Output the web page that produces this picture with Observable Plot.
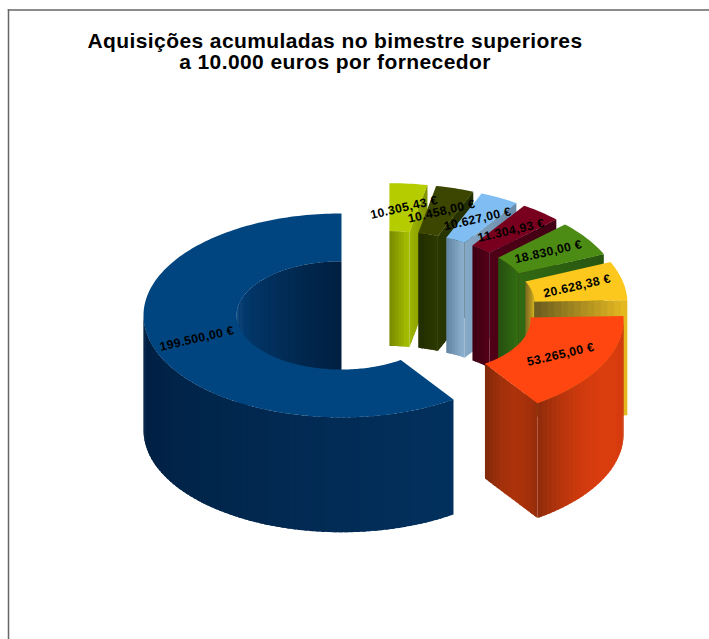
<!DOCTYPE html>
<html><head><meta charset="utf-8">
<script src="https://cdn.jsdelivr.net/npm/d3@7"></script>
<script src="https://cdn.jsdelivr.net/npm/@observablehq/plot@0.6"></script>
<style>html,body{margin:0;background:#fff}svg{display:block}</style>
</head><body><div id="chart"></div>
<script>
const values = [10305.43,10458,10627,11304.93,18830,20628.38,53265,199500];
const labels = ["10.305,43 €","10.458,00 €","10.627,00 €","11.304,93 €","18.830,00 €","20.628,38 €","53.265,00 €","199.500,00 €"];
const topColors = ["#b4cc00","#3c4600","#7fbdf2","#78001e","#4c8c14","#fcc81e","#ff4610","#00457f"];
const wallDark = ["#6f7f00","#1f2a00","#5a7c9a","#3a0012","#234c10","#6a5c20","#6e2408","#011f40"];
const wallLight = ["#a4bc00","#2c3800","#8aaecc","#520018","#336c12","#e8bc20","#e8400f","#03427c"];

const tilt = 0.515, inner = 0.53, depth = 0.58, explode = 0.23;
const total = d3.sum(values);
const TAU = 2 * Math.PI;
const ORANGE = 6, BLUE = 7, YELLOW = 5;
let acc = 0;
const slices = values.map((v, i) => {
  const a0 = acc / total * TAU; acc += v; const a1 = acc / total * TAU;
  const m = (a0 + a1) / 2;
  return {i, a0, a1, cx: explode * Math.sin(m), cy: -explode * tilt * Math.cos(m), m};
});
const pt = (s, r, a, z = 0) => [s.cx + r * Math.sin(a), s.cy - r * tilt * Math.cos(a) + z];
const pts = [];
let fid = 0;
function face(poly, c) {
  const id = fid++;
  for (const [x, y] of poly) pts.push({x, y, id, c});
}
function mix(i, t) { return d3.interpolateRgb(wallDark[i], wallLight[i])(Math.max(0, Math.min(1, t))); }
function wall(s, r, from, to, shade) {
  if (to <= from) return;
  const n = Math.max(2, Math.ceil((to - from) / 0.03));
  const step = (to - from) / n;
  for (let k = 0; k < n; k++) {
    const b0 = from + step * k, b1 = Math.min(to, b0 + step * 1.7);
    face([pt(s, r, b0), pt(s, r, b1), pt(s, r, b1, depth), pt(s, r, b0, depth)], mix(s.i, shade((k + .5) / n)));
  }
}
function cut(s, a, shade) {
  const n = 14, step = (1 - inner) / n;
  for (let k = 0; k < n; k++) {
    const r0 = inner + step * k, r1 = Math.min(1, r0 + step * 1.7);
    face([pt(s, r0, a), pt(s, r1, a), pt(s, r1, a, depth), pt(s, r0, a, depth)], mix(s.i, shade((k + .5) / n)));
  }
}
function topFace(s) {
  const n = Math.max(2, Math.ceil((s.a1 - s.a0) / 0.02));
  const poly = [];
  for (let k = 0; k <= n; k++) poly.push(pt(s, 1, s.a0 + (s.a1 - s.a0) * k / n));
  for (let k = n; k >= 0; k--) poly.push(pt(s, inner, s.a0 + (s.a1 - s.a0) * k / n));
  face(poly, topColors[s.i]);
}
const cutShade = {
  [ORANGE]: t => 0.15 + 0.35 * Math.sin(Math.PI * t * 0.85),
  [YELLOW]: t => t
};
const outerShade = {
  [ORANGE]: t => 0.95 - 0.7 * Math.pow(t, 4) - 0.2 * Math.pow(1 - t, 3),
  [BLUE]: t => 0.5 * (1 - t)
};
for (const s of slices) {
  const {a0, a1} = s;
  wall(s, inner, Math.max(a0, 0), Math.min(a1, Math.PI / 2), t => Math.min(1, 0.15 + t));
  if (a1 > 1.5 * Math.PI) wall(s, inner, Math.max(a0, 1.5 * Math.PI), a1, t => 1 - t);
  if (Math.sin(a1) > 1e-6) cut(s, a1, cutShade[s.i] || (t => 0.9 - t * 0.6));
  if (Math.sin(a0) < -1e-6) cut(s, a0, t => t);
  wall(s, 1, Math.max(a0, Math.PI / 2), Math.min(a1, 1.5 * Math.PI), outerShade[s.i] || (t => 0.9 - t * 0.9));
  topFace(s);
}
const labelRows = slices.map(s => {
  const [x, y] = pt(s, (1 + inner) / 2, s.m);
  return {x, y, text: labels[s.i]};
});

const W = 709, H = 639, px = 198, ox = 384.5, oy = 308;
const ml = 8, mt = 9.5, mr = 0, mb = 0;
const chart = Plot.plot({
  width: W, height: H, marginLeft: ml, marginTop: mt, marginRight: mr, marginBottom: mb,
  x: {domain: [(ml - ox) / px, (W - mr - ox) / px], axis: null},
  y: {domain: [(mt - oy) / px, (H - mb - oy) / px], range: [mt, H - mb], axis: null},
  color: {type: "identity"},
  style: {background: "#fff", letterSpacing: "0.4px"},
  marks: [
    Plot.frame({anchor: "top", stroke: "#666", strokeWidth: 1.5}),
    Plot.frame({anchor: "left", stroke: "#666", strokeWidth: 1.5}),
    Plot.line(pts, {x: "x", y: "y", z: "id", fill: "c", stroke: "none", curve: "linear-closed"}),
    Plot.text(labelRows, {x: "x", y: "y", text: "text", rotate: -13, fontSize: 12.2, fontWeight: "bold", fontFamily: "Liberation Sans", fill: "#000"}),
    Plot.text(["Aquisições acumuladas no bimestre superiores\na 10.000 euros por fornecedor"], {frameAnchor: "top", dx: -24, dy: 23.5, lineHeight: 1.0, fontSize: 21, fontWeight: "bold", fontFamily: "Liberation Sans", fill: "#000"})
  ]
});
document.getElementById("chart").append(chart);
</script></body></html>
